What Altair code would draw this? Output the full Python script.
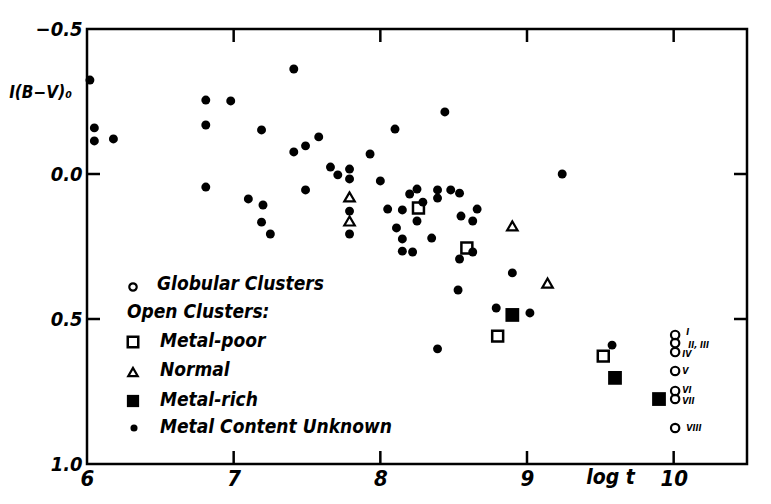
import altair as alt
import pandas as pd

# ---- data ----
unknown_logt = [6.02, 6.05, 6.05, 6.18, 6.81, 6.98, 6.81, 7.19, 7.41, 7.41, 7.49, 7.58,
                7.66, 7.71, 7.79, 7.79, 7.93, 8.00, 6.81, 7.49, 7.10, 7.20, 7.19, 7.25,
                7.79, 7.79, 8.05, 8.44, 8.10, 9.24, 8.20, 8.25, 8.39, 8.39, 8.48, 8.54,
                8.29, 8.15, 8.66, 8.25, 8.55, 8.63, 8.11, 8.15, 8.35, 8.15, 8.22, 8.63,
                8.54, 8.90, 8.53, 8.79, 9.02, 8.39, 9.58]
unknown_bv = [-0.324, -0.159, -0.114, -0.121, -0.255, -0.252, -0.169, -0.152, -0.362, -0.076,
              -0.097, -0.128, -0.024, 0.003, -0.017, 0.017, -0.069, 0.024, 0.045, 0.055,
              0.086, 0.107, 0.166, 0.207, 0.128, 0.207, 0.121, -0.214, -0.155, 0.0,
              0.069, 0.052, 0.055, 0.083, 0.055, 0.066, 0.097, 0.124, 0.121, 0.162,
              0.145, 0.162, 0.186, 0.224, 0.221, 0.266, 0.269, 0.269, 0.293, 0.341,
              0.400, 0.462, 0.479, 0.603, 0.590]
poor_logt = [8.26, 8.59, 8.80, 9.52]
poor_bv = [0.117, 0.255, 0.559, 0.628]
normal_logt = [7.79, 7.79, 8.90, 9.14]
normal_bv = [0.079, 0.162, 0.179, 0.376]
rich_logt = [8.90, 9.60, 9.90]
rich_bv = [0.486, 0.703, 0.776]
glob_logt = [10.01, 10.01, 10.01, 10.01, 10.01, 10.01, 10.01]
glob_bv = [0.555, 0.583, 0.614, 0.679, 0.748, 0.776, 0.876]
glob_labels = ["I", "II, III", "IV", "V", "VI", "VII", "VIII"]
x_ticks = [6, 7, 8, 9, 10]
y_ticks = [-0.5, 0.0, 0.5, 1.0]
x_inner_ticks = [7, 8, 9, 10]
y_inner_ticks = [0.0, 0.5]

legend_labels = ["Globular Clusters", "Open Clusters:", "Metal-poor", "Normal",
                 "Metal-rich", "Metal Content Unknown"]

# label placement offsets (style only, pixels)
glob_label_dx = [11, 13, 7, 7, 7, 7, 11]
glob_label_dy = [-3, 2, 2, 0, -1, 2, 0]

FONT = "DejaVu Sans Condensed"
W, H = 660, 435
TK = 13
LW = 2.5

xs = alt.Scale(domain=[6, 10.5], nice=False, zero=False)
ys = alt.Scale(domain=[-0.5, 1.0], reverse=True, nice=False, zero=False)

x_enc = alt.X("logt:Q", scale=xs, axis=alt.Axis(
    values=x_ticks, format="d", title="log t", titleX=523, titleY=13,
    titleAngle=0, titleAlign="center", titleBaseline="middle",
    titleFont=FONT, titleFontSize=21, titleFontStyle="italic", titleFontWeight="bold",
    titleColor="black", ticks=False, tickSize=0, domain=False, grid=False,
    labelFont=FONT, labelFontSize=22, labelFontStyle="italic", labelFontWeight="bold",
    labelColor="black", labelPadding=4, labelFlush=False))
y_enc = alt.Y("bv:Q", scale=ys, axis=alt.Axis(
    values=y_ticks, format=".1f", title="I(B−V)₀", titleX=-47, titleY=63,
    titleAngle=0, titleAlign="center", titleBaseline="middle",
    titleFont=FONT, titleFontSize=17, titleFontStyle="italic", titleFontWeight="bold",
    titleColor="black", ticks=False, tickSize=0, domain=False, grid=False,
    labelFont=FONT, labelFontSize=20, labelFontStyle="italic", labelFontWeight="bold",
    labelColor="black", labelPadding=5))

layers = []

# inward ticks on all four sides
tx = pd.DataFrame({"logt": x_inner_ticks})
ty = pd.DataFrame({"bv": y_inner_ticks})
layers.append(alt.Chart(tx).mark_rule(color="black", strokeWidth=LW).encode(
    x=x_enc, y=alt.value(H - TK), y2=alt.value(H)))
layers.append(alt.Chart(tx).mark_rule(color="black", strokeWidth=LW).encode(
    x=x_enc, y=alt.value(0), y2=alt.value(TK)))
layers.append(alt.Chart(ty).mark_rule(color="black", strokeWidth=LW).encode(
    y=y_enc, x=alt.value(0), x2=alt.value(TK)))
layers.append(alt.Chart(ty).mark_rule(color="black", strokeWidth=LW).encode(
    y=y_enc, x=alt.value(W - TK), x2=alt.value(W)))

# data
layers.append(alt.Chart(pd.DataFrame({"logt": unknown_logt, "bv": unknown_bv}))
              .mark_circle(size=80, color="black", opacity=1).encode(x=x_enc, y=y_enc))
layers.append(alt.Chart(pd.DataFrame({"logt": poor_logt, "bv": poor_bv}))
              .mark_point(shape="square", size=120, filled=False, color="black",
                          strokeWidth=LW, opacity=1).encode(x=x_enc, y=y_enc))
layers.append(alt.Chart(pd.DataFrame({"logt": normal_logt, "bv": normal_bv}))
              .mark_point(shape="triangle-up", size=110, filled=False, color="black",
                          strokeWidth=2.2, opacity=1).encode(x=x_enc, y=y_enc))
layers.append(alt.Chart(pd.DataFrame({"logt": rich_logt, "bv": rich_bv}))
              .mark_square(size=190, color="black", opacity=1).encode(x=x_enc, y=y_enc))
glob_df = pd.DataFrame({"logt": glob_logt, "bv": glob_bv, "lab": glob_labels})
layers.append(alt.Chart(glob_df)
              .mark_point(shape="circle", size=70, filled=False, color="black",
                          strokeWidth=2.2, opacity=1).encode(x=x_enc, y=y_enc))
for lab, ddx, ddy in zip(glob_labels, glob_label_dx, glob_label_dy):
    layers.append(alt.Chart(glob_df)
                  .transform_filter(alt.datum.lab == lab)
                  .mark_text(align="left", baseline="middle", dx=ddx, dy=ddy, font=FONT,
                             fontSize=9, fontStyle="italic", fontWeight="bold", color="black")
                  .encode(x=x_enc, y=y_enc, text="lab:N"))

# hand-drawn legend inside the plot
one = alt.Data(values=[{}])
def sym(px, py, **kw):
    return alt.Chart(one).mark_point(color="black", opacity=1, **kw).encode(
        x=alt.value(px), y=alt.value(py))
def txt(px, py, s):
    return alt.Chart(one).mark_text(align="left", baseline="middle", font=FONT,
                                    fontSize=19, fontStyle="italic", fontWeight="bold",
                                    color="black", text=s).encode(
        x=alt.value(px), y=alt.value(py))

layers += [
    sym(46, 258, shape="circle", size=55, filled=False, strokeWidth=2.2),
    txt(70, 255, legend_labels[0]),
    txt(40, 283, legend_labels[1]),
    sym(46, 313, shape="square", size=110, filled=False, strokeWidth=LW),
    txt(73, 312, legend_labels[2]),
    sym(46, 343, shape="triangle-up", size=90, filled=False, strokeWidth=2.2),
    txt(73, 341, legend_labels[3]),
    sym(46, 372, shape="square", size=150, filled=True, strokeWidth=0),
    txt(73, 371, legend_labels[4]),
    sym(47, 399, shape="circle", size=50, filled=True, strokeWidth=0),
    txt(73, 398, legend_labels[5]),
]

chart = alt.layer(*layers).properties(
    width=W, height=H,
    autosize=alt.AutoSizeParams(type="none"),
    padding={"left": 79, "top": 21, "right": 16, "bottom": 32},
    background="white",
).configure_view(stroke="black", strokeWidth=LW)

chart.save("out.html", embed_options={"renderer": "svg", "actions": False})
